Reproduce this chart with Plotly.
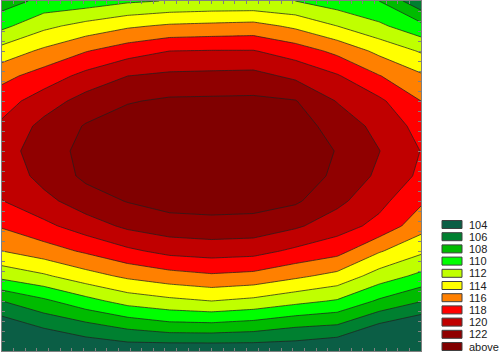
import plotly.graph_objects as go

# grid coordinates (columns left->right, rows top->bottom)
x_vals = [0, 3.6, 7.2, 10.8, 14.4, 18, 21.6, 25.2, 28.8, 32.4, 36]
y_vals = [0, 2.5, 5, 7.5, 10, 12.5, 15, 17.5, 20, 22.5, 25, 27.5, 30, 32.5, 35]

# values (rows top -> bottom)
row_00 = [107.0, 108.6, 108.9, 109.7, 110.1, 110.3, 110.3, 110.0, 108.9, 108.0, 104.5]
row_01 = [109.5, 111.5, 112.7, 113.7, 114.3, 114.5, 114.7, 113.6, 112.0, 110.4, 108.6]
row_02 = [112.8, 114.4, 115.9, 117.1, 118.0, 118.1, 118.1, 117.05, 115.5, 113.5, 111.8]
row_03 = [115.4, 116.9, 118.6, 120.0, 120.4, 120.5, 120.6, 119.6, 118.2, 116.1, 114.3]
row_04 = [117.15, 119.0, 120.8, 121.85, 122.3, 122.35, 122.4, 122.1, 119.9, 118.4, 116.0]
row_05 = [118.35, 120.6, 122.15, 123.0, 123.3, 123.3, 123.3, 122.9, 121.2, 119.4, 117.3]
row_06 = [119.2, 121.0, 122.6, 123.5, 123.9, 123.9, 123.8, 123.3, 121.9, 120.05, 117.95]
row_07 = [118.6, 120.7, 122.4, 123.3, 123.7, 123.7, 123.6, 123.1, 121.6, 119.6, 117.6]
row_08 = [117.95, 119.4, 121.1, 122.1, 122.8, 122.9, 122.8, 122.3, 120.5, 118.6, 116.3]
row_09 = [116.2, 117.5, 119.0, 120.4, 121.1, 121.3, 121.2, 120.3, 118.9, 117.4, 114.8]
row_10 = [114.0, 115.1, 116.3, 117.6, 118.6, 118.9, 118.7, 117.6, 116.7, 114.2, 112.4]
row_11 = [110.6, 111.7, 113.2, 114.4, 115.2, 115.7, 115.4, 114.4, 113.4, 111.1, 109.5]
row_12 = [106.0, 107.6, 109.3, 110.8, 111.5, 112.0, 111.5, 110.6, 109.8, 107.7, 106.1]
row_13 = [102.7, 104.3, 105.4, 106.5, 107.3, 107.4, 107.0, 106.2, 105.8, 103.6, 102.2]
row_14 = [100.5, 101.0, 102.2, 102.6, 102.4, 102.4, 102.5, 102.5, 101.8, 100.8, 100.5]

z_vals = [row_00, row_01, row_02, row_03, row_04, row_05, row_06, row_07,
          row_08, row_09, row_10, row_11, row_12, row_13, row_14]

levels = [104, 106, 108, 110, 112, 114, 116, 118, 120, 122]
legend_labels = ["104", "106", "108", "110", "112", "114", "116", "118", "120", "122", "above"]
band_colors = ["#0B5E45", "#008030", "#00BB00", "#00FF00", "#C0FF00", "#FFFF00",
               "#FF8000", "#FF0000", "#C00000", "#900000", "#800000"]

fig = go.Figure()
# base band (below the first level)
fig.add_trace(go.Heatmap(x=x_vals, y=y_vals, z=z_vals,
                         colorscale=[[0, band_colors[0]], [1, band_colors[0]]],
                         showscale=False, hoverinfo="skip"))
# each level: shade the region above it with the colour of the band above
# (a "<" constraint shades where it is not met, i.e. z >= level)
for k, lev in enumerate(levels):
    fig.add_trace(go.Contour(
        x=x_vals, y=y_vals, z=z_vals,
        contours=dict(type="constraint", operation="<", value=lev),
        fillcolor=band_colors[k + 1],
        line=dict(color="rgba(30,30,30,0.9)", width=0.8, smoothing=0),
        showscale=False, hoverinfo="skip", showlegend=False,
    ))

W, H = 500, 352
L, R, T, B = 2, 79, 1, 1
pw, ph = W - L - R, H - T - B

def px_to_paper_x(px):
    return (px - L) / pw

def px_to_paper_y(py):
    return (H - B - py) / ph

shapes = []
annotations = []
for i, (lab, col) in enumerate(zip(legend_labels, band_colors)):
    top = 220.5 + 12.2 * i
    bot = top + 8
    shapes.append(dict(type="rect", xref="paper", yref="paper",
                       x0=px_to_paper_x(442), x1=px_to_paper_x(462),
                       y0=px_to_paper_y(bot), y1=px_to_paper_y(top),
                       fillcolor=col, line=dict(color="#404040", width=1)))
    annotations.append(dict(xref="paper", yref="paper",
                            x=px_to_paper_x(467), y=px_to_paper_y((top + bot) / 2),
                            text=lab, showarrow=False, xanchor="left", yanchor="middle",
                            font=dict(family="Liberation Sans, Arial", size=11, color="#202020")))

axis_common = dict(showgrid=False, zeroline=False, showticklabels=False,
                   ticks="inside", ticklen=3, tickcolor="#808080",
                   showline=True, linecolor="#808080", linewidth=1, mirror="ticks")

fig.update_layout(
    width=W, height=H,
    margin=dict(l=L, r=R, t=T, b=B),
    paper_bgcolor="white", plot_bgcolor=band_colors[0],
    xaxis=dict(range=[0, 36], dtick=1, **axis_common),
    yaxis=dict(range=[35, 0], dtick=1, **axis_common),
    shapes=shapes, annotations=annotations,
    showlegend=False,
)

fig.write_html("out.html")
